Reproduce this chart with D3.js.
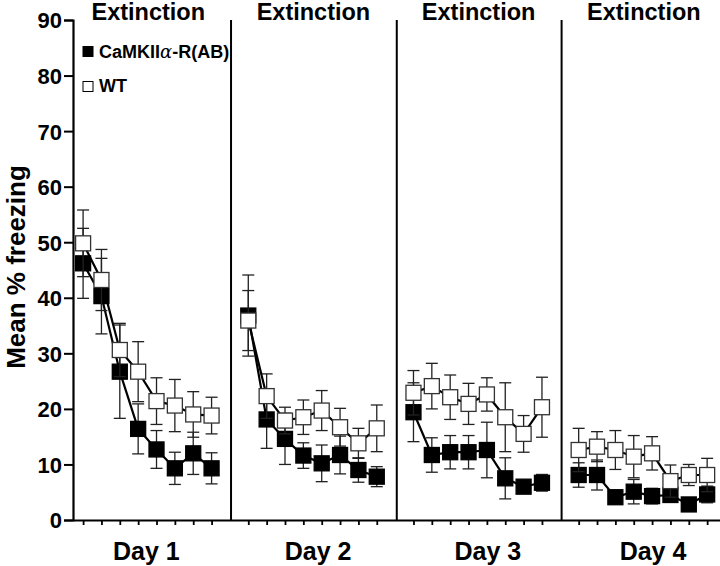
<!DOCTYPE html>
<html>
<head>
<meta charset="utf-8">
<script src="https://cdn.jsdelivr.net/npm/d3@7"></script>
<style>
  html, body { margin: 0; padding: 0; background: #fff; }
  svg { display: block; }
  text { font-family: "Liberation Sans", Arial, Helvetica, sans-serif; font-weight: bold; fill: #000; }
</style>
</head>
<body>
<svg id="chart" width="720" height="566"></svg>
<script>
// ---- data ----
const days = ["Day 1", "Day 2", "Day 3", "Day 4"];
const panelTitle = "Extinction";
const seriesNames = ["CaMKIIα-R(AB)", "WT"];
const yTicks = [0, 10, 20, 30, 40, 50, 60, 70, 80, 90];
const trialsPerDay = 8;

// CaMKIIα-R(AB) mean and SEM (8 trials per day)
const mutMean = [
  [46.2, 40.3, 26.7, 16.4, 12.7, 9.3, 12.0, 9.3],
  [36.8, 18.1, 14.6, 11.6, 10.2, 11.7, 9.0, 7.8],
  [19.4, 11.7, 12.2, 12.2, 12.6, 7.5, 6.0, 6.7],
  [8.1, 8.1, 4.1, 5.1, 4.3, 4.5, 2.8, 4.6]
];
const mutErr = [
  [6.3, 6.8, 8.4, 4.5, 3.4, 2.9, 3.8, 2.8],
  [7.3, 5.2, 4.6, 2.3, 3.3, 3.4, 2.2, 1.8],
  [5.3, 3.1, 3.0, 3.0, 5.0, 3.7, 1.0, 1.5],
  [2.2, 2.7, 1.0, 2.2, 1.4, 1.0, 1.0, 1.5]
];
// WT mean and SEM
const wtMean = [
  [49.8, 43.2, 30.6, 26.7, 21.4, 20.6, 19.0, 18.8],
  [35.9, 22.3, 17.9, 18.5, 19.7, 16.7, 13.8, 16.5],
  [22.9, 24.1, 22.1, 20.9, 22.6, 18.5, 15.5, 20.3],
  [12.6, 13.2, 12.6, 11.4, 12.0, 7.0, 8.1, 8.1]
];
const wtErr = [
  [6.0, 5.5, 4.8, 5.4, 4.2, 4.7, 4.1, 3.3],
  [5.4, 4.0, 2.4, 3.1, 3.6, 3.4, 2.7, 4.2],
  [4.0, 4.1, 4.0, 3.7, 3.0, 6.2, 3.3, 5.4],
  [3.9, 2.7, 3.5, 3.8, 3.0, 2.9, 1.9, 3.0]
];
// slot positions on the continuous trial axis (9 slots per day)
const slotsPerDay = 9;
const dividerSlots = [8.06, 17.09, 26.07];
const titleSlot = 3.55;
const dayLabelSlots = [3.45, 12.8, 22.05, 31.05];

// ---- layout ----
const svg = d3.select("#chart");
const x = d3.scaleLinear().domain([-0.55, 34.7]).range([73, 720]);
const y = d3.scaleLinear().domain([0, 90]).range([520, 20]);
const sq = 15;

function flatten(meanArr, errArr) {
  const out = [];
  meanArr.forEach((arr, d) => arr.forEach((v, t) => out.push({ day: d, t, v, e: errArr[d][t], slot: d * slotsPerDay + t })));
  return out;
}
const mutData = flatten(mutMean, mutErr);
const wtData = flatten(wtMean, wtErr);

// axes
const yAxis = d3.axisLeft(y).tickValues(yTicks).tickSize(9).tickPadding(2);
const gy = svg.append("g").attr("transform", `translate(${x(-0.55)},0)`).call(yAxis);
gy.select(".domain").attr("stroke", "#000").attr("stroke-width", 2.2);
gy.selectAll(".tick line").attr("stroke", "#000").attr("stroke-width", 2);
gy.selectAll(".tick text").style("font-size", "22px").style("font-weight", "bold")
  .style("font-family", '"Liberation Sans", Arial, sans-serif').attr("fill", "#000").attr("dy", "0.36em");

const xTickSlots = [];
for (let d = 0; d < days.length; d++) for (let t = 0; t < trialsPerDay; t++) xTickSlots.push(d * slotsPerDay + t);
const xAxis = d3.axisBottom(x).tickValues(xTickSlots).tickSize(5).tickFormat("").tickSizeOuter(0);
const gx = svg.append("g").attr("transform", `translate(0,${y(0)})`).call(xAxis);
gx.select(".domain").attr("stroke", "#000").attr("stroke-width", 2.2);
gx.selectAll(".tick line").attr("stroke", "#000").attr("stroke-width", 1.8);

// dividers
svg.append("g").selectAll("line").data(dividerSlots).join("line")
  .attr("x1", d => x(d)).attr("x2", d => x(d))
  .attr("y1", y(90)).attr("y2", y(0))
  .attr("stroke", "#000").attr("stroke-width", 2);

// panel titles
svg.append("g").selectAll("text").data(days).join("text")
  .attr("x", (d, i) => x(i * slotsPerDay + titleSlot))
  .attr("y", 19.5)
  .attr("text-anchor", "middle")
  .style("font-size", "23.5px")
  .text(panelTitle);

// day labels
svg.append("g").selectAll("text").data(days).join("text")
  .attr("x", (d, i) => x(dayLabelSlots[i]))
  .attr("y", 560)
  .attr("text-anchor", "middle")
  .style("font-size", "25px")
  .text(d => d);

// y title
svg.append("text")
  .attr("transform", "translate(25,267) rotate(-90)")
  .attr("text-anchor", "middle")
  .style("font-size", "26px")
  .text("Mean % freezing");

// series drawing
function drawSeries(data, fill) {
  const g = svg.append("g");
  const eb = g.append("g").attr("stroke", "#222").attr("stroke-width", 1.3).attr("fill", "none");
  data.forEach(p => {
    const cx = x(p.slot);
    eb.append("line").attr("x1", cx).attr("x2", cx).attr("y1", y(p.v + p.e)).attr("y2", y(p.v - p.e));
    eb.append("line").attr("x1", cx - 6).attr("x2", cx + 6).attr("y1", y(p.v + p.e)).attr("y2", y(p.v + p.e));
    eb.append("line").attr("x1", cx - 6).attr("x2", cx + 6).attr("y1", y(p.v - p.e)).attr("y2", y(p.v - p.e));
  });
  const line = d3.line().x(p => x(p.slot)).y(p => y(p.v));
  d3.range(days.length).forEach(d => {
    g.append("path").datum(data.filter(p => p.day === d))
      .attr("d", line).attr("fill", "none").attr("stroke", "#000").attr("stroke-width", 2.2);
  });
  g.append("g").selectAll("rect").data(data).join("rect")
    .attr("x", p => x(p.slot) - sq / 2).attr("y", p => y(p.v) - sq / 2)
    .attr("width", sq).attr("height", sq)
    .attr("fill", fill).attr("stroke", fill === "#000" ? "#000" : "#333").attr("stroke-width", 1.3);
}
drawSeries(mutData, "#000");
drawSeries(wtData, "#fff");

// legend
const legend = svg.append("g");
const legendFills = ["#000", "#fff"];
legend.selectAll("rect").data(seriesNames).join("rect")
  .attr("x", 83).attr("y", (d, i) => 46.5 + i * 35)
  .attr("width", 10).attr("height", 10)
  .attr("fill", (d, i) => legendFills[i]).attr("stroke", "#000").attr("stroke-width", 1);
legend.selectAll("text").data(seriesNames).join("text")
  .attr("x", 99).attr("y", (d, i) => 58.3 + i * 33.4)
  .style("font-size", "18px")
  .each(function (d) {
    const t = d3.select(this);
    const k = d.indexOf("α");
    if (k < 0) { t.text(d); return; }
    t.append("tspan").text(d.slice(0, k));
    t.append("tspan").style("font-family", '"DejaVu Serif", serif').style("font-style", "italic")
      .style("font-weight", "normal").text("α");
    t.append("tspan").text(d.slice(k + 1));
  });
</script>
</body>
</html>
